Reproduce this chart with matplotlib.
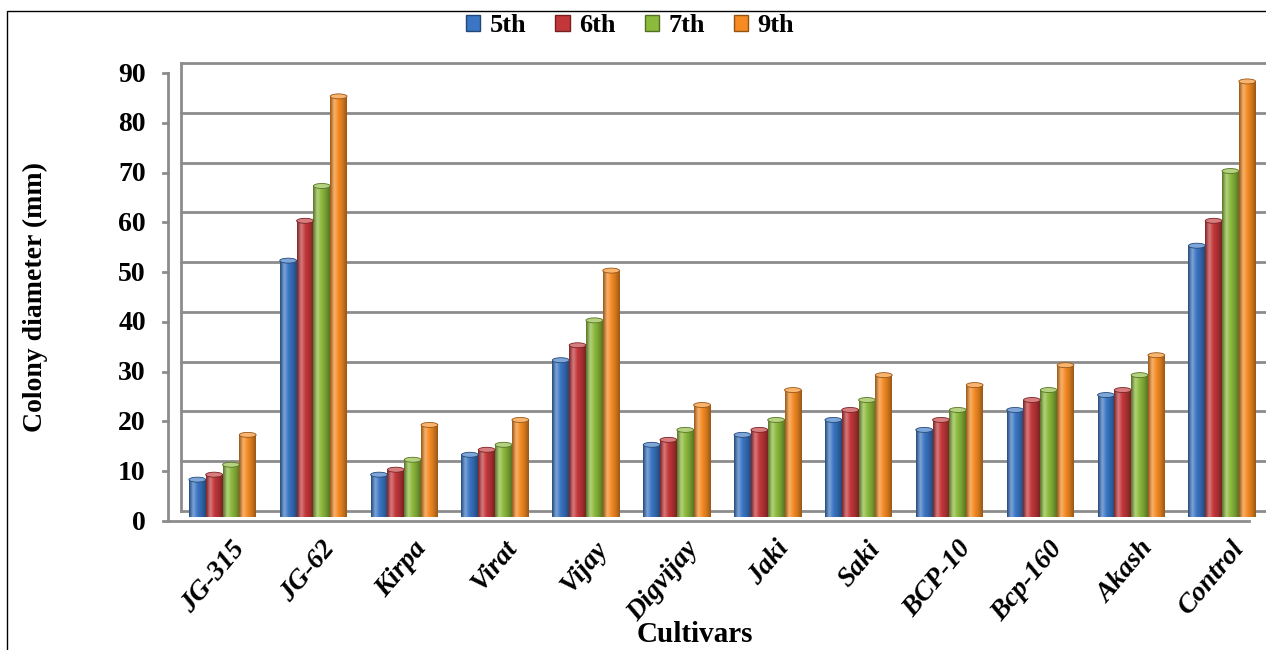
import numpy as np
import matplotlib
matplotlib.use("Agg")
import matplotlib.pyplot as plt
import matplotlib.transforms as mtransforms
from matplotlib.colors import LinearSegmentedColormap, to_rgb
from matplotlib.patches import Ellipse, Rectangle, Patch

plt.rcParams["font.family"] = "Liberation Serif"
plt.rcParams["font.weight"] = "bold"

# données
cultivars = ["JG-315", "JG-62", "Kirpa", "Virat", "Vijay", "Digvijay",
             "Jaki", "Saki", "BCP-10", "Bcp-160", "Akash", "Control"]
jour5 = [8, 52, 9, 13, 32, 15, 17, 20, 18, 22, 25, 55]
jour6 = [9, 60, 10, 14, 35, 16, 18, 22, 20, 24, 26, 60]
jour7 = [11, 67, 12, 15, 40, 18, 20, 24, 22, 26, 29, 70]
jour9 = [17, 85, 19, 20, 50, 23, 26, 29, 27, 31, 33, 88]
series = ["5th", "6th", "7th", "9th"]
couleurs = ["#3a76c4", "#c3373a", "#8cba3c", "#f58b22"]
yticks = list(range(0, 100, 10))

W, H = 1266, 650
fig = plt.figure(figsize=(W / 100, H / 100), dpi=100)
# zone du graphe en pixels
x_left, x_right = 168, 1262
y_zero, y_top = 517, 69
ax = fig.add_axes([x_left / W, 1 - y_zero / H, (x_right - x_left) / W, (y_zero - y_top) / H])
xmin, xmax = -0.6, 11.44
ymin, ymax = 0, 90

grey = "#8c8c8c"
back = mtransforms.offset_copy(ax.transData, fig=fig, x=13, y=6, units="dots")
front = mtransforms.offset_copy(ax.transData, fig=fig, x=0, y=-4, units="dots")

# murs (effet 3D)
for v in yticks:
    ax.plot([xmin, xmax], [v, v], color=grey, lw=2, transform=back, clip_on=False, zorder=1)
    ax.plot([xmin - 0.06, xmin], [v, v], color=grey, lw=2, transform=front, clip_on=False, zorder=1)
    # diagonale avant -> arrière
    p0 = front.transform((xmin, v))
    p1 = back.transform((xmin, v))
    fig.add_artist(plt.Line2D([p0[0] / W, p1[0] / W], [p0[1] / H, p1[1] / H],
                              color=grey, lw=2, transform=fig.transFigure, zorder=1))
ax.plot([xmin, xmin], [0, 90], color=grey, lw=2, transform=front, clip_on=False, zorder=1)
ax.plot([xmin, xmin], [0, 90], color=grey, lw=2, transform=back, clip_on=False, zorder=1)
ax.plot([xmin, xmax - 0.14], [0, 0], color=grey, lw=2, transform=front, clip_on=False, zorder=1)
p0 = front.transform((xmax - 0.14, 0))
p1 = back.transform((xmax - 0.14, 0))
fig.add_artist(plt.Line2D([p0[0] / W, p1[0] / W], [p0[1] / H, p1[1] / H],
                          color=grey, lw=2, transform=fig.transFigure, zorder=1))


def cylindre(ax, x0, w, h, couleur):
    base = np.array(to_rgb(couleur))
    dark = base * 0.62
    light = base + (1 - base) * 0.35
    cmap = LinearSegmentedColormap.from_list("c", [dark, light, base, base * 0.85, dark])
    grad = np.linspace(0, 1, 64).reshape(1, -1)
    cap = 1.0
    ax.imshow(grad, cmap=cmap, extent=(x0, x0 + w, 0, h - cap / 2), aspect="auto",
              interpolation="bicubic", zorder=3)
    ax.add_patch(Ellipse((x0 + w / 2, h - cap / 2), w, cap, facecolor=light,
                         edgecolor=dark, lw=0.6, zorder=4))


bw = 0.185
x = np.arange(len(cultivars))
for i, (vals, c) in enumerate(zip([jour5, jour6, jour7, jour9], couleurs)):
    for xi, v in zip(x, vals):
        cylindre(ax, xi + (i - 2) * bw, bw, v, c)

ax.set_xlim(xmin, xmax)
ax.set_ylim(ymin, ymax)
for s in ax.spines.values():
    s.set_visible(False)
ax.set_facecolor("none")

ax.set_yticks(yticks)
ax.set_yticklabels([str(v) for v in yticks], fontsize=20, fontweight="bold")
ax.tick_params(axis="y", length=0, pad=16)
for lab in ax.get_yticklabels():
    lab.set_transform(lab.get_transform() + mtransforms.ScaledTranslation(0, -3 / 100, fig.dpi_scale_trans))

ax.set_xticks(x)
ax.set_xticklabels(cultivars, rotation=50, ha="right", va="top", rotation_mode="anchor",
                   fontsize=20, fontweight="bold", fontstyle="italic")
ax.tick_params(axis="x", length=0, pad=14)
for lab in ax.get_xticklabels():
    lab.set_transform(lab.get_transform() + mtransforms.ScaledTranslation(8 / 100, 0, fig.dpi_scale_trans))

fig.text(35 / W, 1 - 297 / H, "Colony diameter (mm)", fontsize=20, fontweight="bold",
         rotation=90, ha="center", va="center")
fig.text(695 / W, 1 - 635 / H, "Cultivars", fontsize=21, fontweight="bold", ha="center", va="center")

# légende
handles = [Patch(facecolor=c, edgecolor=np.array(to_rgb(c)) * 0.6) for c in couleurs]
fig.legend(handles, series, loc="center", bbox_to_anchor=(630 / W, 1 - 26 / H), ncol=4,
           frameon=False, fontsize=19, handlelength=0.55, handleheight=0.55,
           handletextpad=0.35, columnspacing=1.1)

# cadre
fig.add_artist(Rectangle((7 / W, -0.1), 1.2, 1.1 - 11 / H, transform=fig.transFigure,
                         fill=False, edgecolor="black", lw=1))

fig.savefig("out.png", dpi=100)
